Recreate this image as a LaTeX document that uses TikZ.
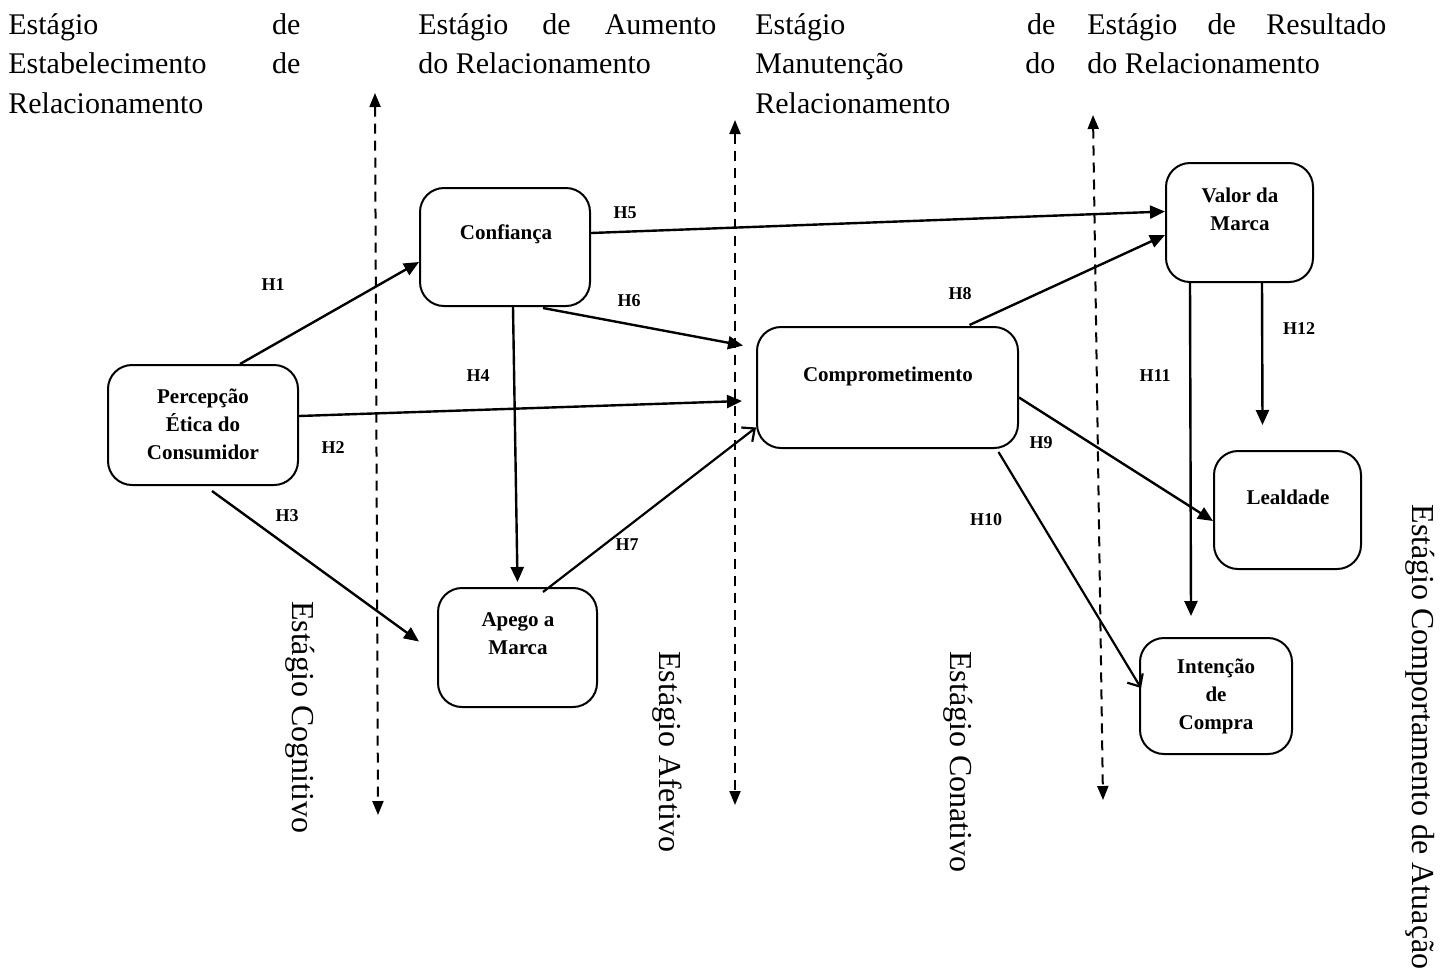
\documentclass[tikz,border=0pt]{standalone}
\usepackage{fontspec}
\setmainfont{Liberation Serif}
\usetikzlibrary{arrows.meta,calc}

\begin{document}
\begin{tikzpicture}[x=0.5pt,y=-0.5pt,
  box/.style={draw,line width=1pt,rounded corners=12pt,inner sep=0pt},
  lbl/.style={font=\fontsize{10.5}{14}\selectfont\bfseries,align=center,inner sep=0pt},
  hyp/.style={font=\fontsize{9}{11}\selectfont\bfseries,inner sep=0pt},
  link/.style={line width=1.2pt,-{Triangle[length=7.5pt,width=6.5pt]}},
  openlink/.style={line width=1.1pt,-{Straight Barb[length=5pt,width=9pt]}},
  stage/.style={line width=1pt,dash pattern=on 5pt off 3.5pt,
    {Triangle[length=7pt,width=5.5pt]}-{Triangle[length=7pt,width=5.5pt]}},
  head/.style={font=\fontsize{15}{19.5}\selectfont,inner sep=0pt,anchor=base west},
  side/.style={font=\fontsize{16}{19}\selectfont,rotate=-90,inner sep=0pt}]

\useasboundingbox (0,0) rectangle (1446,976);

% stage headings
\node[head] (h1a) at (8,34)    {\makebox[146pt][l]{Estágio\hfill de}};
\node[head] (h1b) at (8,73.5)  {\makebox[146pt][l]{Estabelecimento\hfill de}};
\node[head] (h1c) at (8,113)   {Relacionamento};
\node[head] (h2a) at (418,34)  {\makebox[149pt][l]{Estágio\hfill de\hfill Aumento}};
\node[head] (h2b) at (418,73.5){do Relacionamento};
\node[head] (h3a) at (755,34)  {\makebox[150pt][l]{Estágio\hfill de}};
\node[head] (h3b) at (755,73.5){\makebox[150pt][l]{Manutenção\hfill do}};
\node[head] (h3c) at (755,113) {Relacionamento};
\node[head] (h4a) at (1087,34) {\makebox[149.5pt][l]{Estágio\hfill de\hfill Resultado}};
\node[head] (h4b) at (1087,73.5){do Relacionamento};

% vertical stage names
\node[side] (s1) at (300,717)  {Estágio Cognitivo};
\node[side] (s2) at (667,752)  {Estágio Afetivo};
\node[side] (s3) at (958,762)  {Estágio Conativo};
\node[side] (s4) at (1420,737) {Estágio Comportamento de Atuação};

% stage separators
\coordinate (d1t) at (375,93);   \coordinate (d1b) at (378,815);
\coordinate (d2t) at (735,120);  \coordinate (d2b) at (735,805);
\coordinate (d3t) at (1093,115); \coordinate (d3b) at (1103,800);
\draw[stage] (d1t) -- (d1b);
\draw[stage] (d2t) -- (d2b);
\draw[stage] (d3t) -- (d3b);

% constructs
\node[box,minimum width=95pt,minimum height=60pt] (perc) at (203,425) {};
\node[lbl] at (203,424) {Percepção\\Ética do\\Consumidor};
\node[box,minimum width=85pt,minimum height=59pt] (conf) at (505,247) {};
\node[lbl] at (506,234) {Confiança};
\node[box,minimum width=79.5pt,minimum height=59.5pt] (apego) at (517.5,647.5) {};
\node[lbl] at (518,634) {Apego a\\Marca};
\node[box,minimum width=130.5pt,minimum height=60.5pt] (comp) at (887.5,387.5) {};
\node[lbl] at (888,376) {Comprometimento};
\node[box,minimum width=73.5pt,minimum height=59.5pt] (valor) at (1239.5,222.5) {};
\node[lbl] at (1240,209) {Valor da\\Marca};
\node[box,minimum width=73.5pt,minimum height=59pt] (leal) at (1287.5,510) {};
\node[lbl] at (1288,497) {Lealdade};
\node[box,minimum width=76pt,minimum height=58pt] (inten) at (1216,696) {};
\node[lbl] at (1216,696) {Intenção\\de\\Compra};

% hypotheses
\draw[link] ($(perc.north)+(37,0)$) -- ($(conf.west)+(0,15)$);
\draw[link] ($(perc.east)+(0,-9)$) -- ($(comp.west)+(-14,13.5)$);
\draw[link] ($(perc.south)+(9,5)$) -- ($(apego.west)+(-18,-6)$);
\draw[link] ($(conf.south)+(8,0)$) -- ($(apego.north)+(0,-5)$);
\draw[link] ($(conf.east)+(0,-14)$) -- ($(valor.west)+(0,-11)$);
\draw[link] ($(conf.south)+(38,1)$) -- ($(comp.west)+(-13,-42)$);
\draw[openlink] ($(apego.north)+(25.5,5)$) -- ($(comp.west)+(0,40)$);
\draw[link] ($(comp.north)+(82,-1)$) -- ($(valor.west)+(0,12.5)$);
\draw[link] ($(comp.east)+(0,10)$) -- ($(leal.west)+(0,11)$);
\draw[openlink] ($(comp.south)+(111,3)$) -- ($(inten.west)+(2,-8)$);
\draw[link] ($(valor.south)+(-49.5,0)$) -- ($(inten.north)+(-25,-21)$);
\draw[link] ($(valor.south)+(22.5,0)$) -- ($(leal.north)+(-25,-25)$);

\node[hyp] (l1)  at (273,285)  {H1};
\node[hyp] (l2)  at (333,448)  {H2};
\node[hyp] (l3)  at (287,516)  {H3};
\node[hyp] (l4)  at (478,376)  {H4};
\node[hyp] (l5)  at (625,213)  {H5};
\node[hyp] (l6)  at (629,301)  {H6};
\node[hyp] (l7)  at (627,545)  {H7};
\node[hyp] (l8)  at (960,294)  {H8};
\node[hyp] (l9)  at (1041,443) {H9};
\node[hyp] (l10) at (986,520)  {H10};
\node[hyp] (l11) at (1155,376) {H11};
\node[hyp] (l12) at (1299,329) {H12};
\end{tikzpicture}
\end{document}
